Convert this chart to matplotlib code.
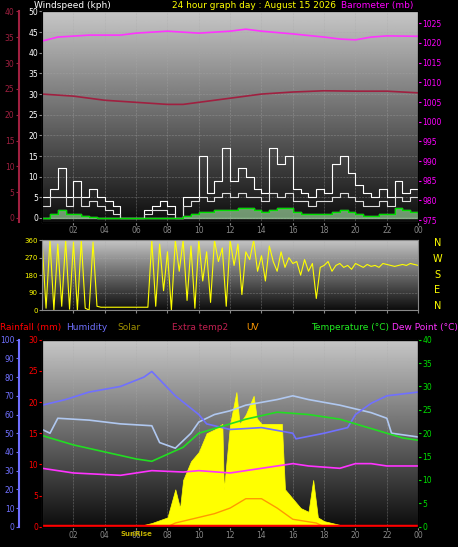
import matplotlib.pyplot as plt
import numpy as np

# ---- data ----
half_hours = np.arange(0, 24.5, 0.5)
wind_gust = [5, 7, 12, 5, 9, 5, 7, 5, 4, 3, 0, 0, 0, 2, 3, 4, 3, 0, 5, 5,
             15, 6, 9, 17, 9, 12, 10, 7, 6, 17, 13, 15, 7, 6, 5, 7, 6, 13,
             15, 11, 8, 6, 5, 7, 5, 9, 6, 7, 5]
wind_avg = [3, 5, 5, 3, 5, 3, 4, 3, 2, 1, 0, 0, 0, 1, 2, 2, 1, 0, 3, 4,
            5, 4, 5, 6, 5, 6, 5, 5, 4, 6, 5, 6, 4, 4, 3, 4, 4, 5,
            6, 5, 4, 3, 3, 4, 3, 5, 4, 5, 4]
wind_mean = [0, 1, 2, 1, 1, 0.5, 0.2, 0, 0, 0, 0, 0, 0, 0, 0, 0, 0, 0, 0.5, 1,
             1.5, 1.5, 2, 2, 2, 2.5, 2.5, 2, 1.5, 2, 2.5, 2.5, 1.5, 1, 1, 1, 1, 1.5,
             2, 1.5, 1, 0.5, 0.5, 1, 1, 2.5, 2, 1.5, 1]
press_hours = [0, 1, 3, 5, 6, 8, 10, 12, 13, 14, 16, 18, 19, 20, 21, 22, 24]
pressure = [1020.5, 1021.5, 1022, 1022, 1022.5, 1023, 1022.5, 1023, 1023.5, 1023,
            1022.3, 1021.5, 1021, 1020.8, 1021.5, 1021.8, 1021.7]
extra_hours = [0, 2, 4, 6, 8, 9, 10, 12, 14, 16, 18, 20, 22, 24]
extra_temp = [30, 29.5, 28.5, 28, 27.5, 27.5, 28, 29, 30, 30.5, 30.8, 30.7, 30.7, 30.3]

dir_hours = np.arange(0, 24.25, 0.25)
wind_dir = [350, 10, 360, 0, 340, 20, 360, 5, 350, 0, 360, 10, 0, 350, 20,
            15, 15, 15, 15, 15, 15, 15, 15, 15, 15, 15, 15, 15,
            360, 20, 340, 100, 300, 0, 360, 200, 360, 50, 330, 10, 360, 150, 300,
            40, 360, 250, 320, 20, 360, 230, 340, 80, 300, 260, 360, 200, 280,
            150, 330, 250, 200, 300, 220, 270, 240,
            250, 180, 260, 200, 240, 60, 220, 230, 250, 200, 230, 240, 220, 230,
            210, 240, 230, 220, 235, 225, 230, 220, 240, 235, 230, 225, 230, 235,
            230, 240, 235, 230]

hum_hours = [0, 1.5, 3, 5, 6.5, 7, 8.5, 10, 10.5, 12, 14, 16, 16.2, 18, 19.5, 20, 21, 22, 24]
humidity = [65, 68, 72, 75, 80, 83, 70, 60, 55, 52, 53, 50, 47, 50, 53, 60, 66, 70, 72]
hum2_hours = [0, 0.5, 1, 3, 5, 7, 7.5, 8.5, 9.5, 10, 11, 12, 13, 15, 16, 17, 19, 21, 22, 22.3, 24]
humidity2 = [52, 50, 58, 57, 55, 54, 45, 42, 50, 56, 60, 62, 65, 68, 70, 68, 65, 61, 58, 50, 48]
temp_hours = [0, 2, 4, 6, 7, 8, 9, 10, 11, 13, 15, 17, 19, 21, 23, 24]
temperature = [19.5, 17.5, 16, 14.5, 14, 15.5, 17, 20, 21, 23, 24.5, 24, 23, 21, 19, 18.5]
dew_hours = [0, 2, 5, 7, 9, 10, 12, 14, 16, 17, 19, 20, 21, 22, 24]
dewpoint = [12.5, 11.5, 11, 12, 11.7, 12, 11.5, 12.5, 13.5, 13, 12.5, 13.5, 13.5, 13, 13]
solar_hours = [6, 7, 8, 8.5, 8.8, 9, 9.5, 10, 10.5, 11, 11.5, 11.6, 12, 12.4, 12.6,
               13, 13.5, 13.7, 14, 15, 15.3, 15.5, 16, 16.5, 17, 17.3, 17.6, 18, 19, 20]
solar = [0, 2, 5, 20, 10, 25, 35, 40, 50, 52, 55, 20, 55, 72, 55, 60, 70, 58, 55, 55,
         55, 20, 15, 10, 8, 25, 5, 3, 1, 0]
uv_hours = [8, 8.5, 10, 11, 12, 13, 14, 15, 16, 17.5, 18]
uv = [0, 2, 5, 7, 10, 15, 15, 10, 4, 2, 0]
tick_hours = list(range(2, 26, 2))
tick_labels = ['02', '04', '06', '08', '10', '12', '14', '16', '18', '20', '22', '00']

plt.rcParams['font.family'] = 'DejaVu Sans'
fig = plt.figure(figsize=(4.58, 5.47), dpi=100, facecolor='black')
grad = np.linspace(0.05, 0.78, 256)[:, None]


def panel(rect, labels=True):
    ax = fig.add_axes(rect)
    ax.set_facecolor('black')
    ax.imshow(grad, cmap='gray', vmin=0, vmax=1, aspect='auto', origin='lower',
              extent=(0, 1, 0, 1), transform=ax.transAxes, zorder=0)
    ax.set_xlim(0, 24)
    ax.set_xticks(tick_hours)
    ax.set_xticklabels(tick_labels if labels else [], color='yellow', fontsize=5.5)
    ax.grid(color='#aaaaaa', lw=0.4, ls=':')
    for s in ax.spines.values():
        s.set_color('#888888')
    ax.tick_params(colors='#888888', length=2, pad=1)
    return ax


def outer_left(parent, color, lo, hi, step):
    ax = parent.twinx()
    ax.spines['left'].set_position(('outward', 17))
    ax.spines['left'].set_color(color)
    ax.spines['left'].set_linewidth(1.5)
    ax.yaxis.set_label_position('left')
    ax.yaxis.set_ticks_position('left')
    ax.set_ylim(lo, hi)
    ax.set_yticks(range(int(lo + 0.99), int(hi) + 1, step))
    ax.tick_params(colors=color, labelsize=5.5, length=2, pad=1)
    return ax


# top panel: wind and pressure
ax1 = panel([0.092, 0.594, 0.821, 0.385])
ax1.set_ylim(-1, 50)
ax1.set_yticks(range(0, 51, 5))
ax1.tick_params(axis='y', labelcolor='white', labelsize=5.5)
ax1.step(half_hours, wind_gust, where='post', color='white', lw=0.8)
ax1.step(half_hours, wind_avg, where='post', color='#dddddd', lw=0.8)
ax1.fill_between(half_hours, wind_mean, step='post', color='#b0f0b0', alpha=0.6)
ax1.step(half_hours, wind_mean, where='post', color='#00dd00', lw=1)
ax1.plot(extra_hours, extra_temp, color='#a02040', lw=1.2)
axp = ax1.twinx()
axp.set_ylim(974.5, 1028)
axp.set_yticks(range(975, 1026, 5))
axp.tick_params(colors='magenta', labelsize=5.5, length=2, pad=1)
axp.plot(press_hours, pressure, color='#ff33ff', lw=1.2)
outer_left(ax1, '#a02040', -0.8, 40, 5)
fig.text(0.075, 0.998, 'Windspeed (kph)', color='white', fontsize=6.5, va='top')
fig.text(0.375, 0.998, '24 hour graph day : August 15 2026', color='yellow', fontsize=6.5, va='top')
fig.text(0.745, 0.998, 'Barometer (mb)', color='magenta', fontsize=6.5, va='top')

# middle panel: wind direction
ax2 = panel([0.092, 0.433, 0.821, 0.128], labels=False)
ax2.set_ylim(0, 360)
ax2.set_yticks([0, 90, 180, 270, 360])
ax2.tick_params(axis='y', labelcolor='yellow', labelsize=5)
ax2.plot(dir_hours, wind_dir, color='yellow', lw=0.8)
for i, c in enumerate('NWSEN'):
    fig.text(0.955, 0.556 - i * 0.029, c, color='yellow', fontsize=7, va='center', ha='center')

# bottom panel
ax3 = panel([0.092, 0.037, 0.821, 0.342])
ax3.set_ylim(0, 100)
ax3.set_yticks([])
ax3.fill_between(solar_hours, solar, color='yellow', lw=0.5, zorder=2)
ax3.plot(uv_hours, uv, color='#ff9900', lw=1, zorder=3)
ax3.plot(hum2_hours, humidity2, color='#b0c8f0', lw=1.2, zorder=3)
ax3.plot(hum_hours, humidity, color='#7070ff', lw=1.2, zorder=3)
ax3.axhline(0.3, color='red', lw=2.5, zorder=4)
outer_left(ax3, '#7070ff', 0, 100, 10)
axr = ax3.twinx()
axr.yaxis.set_ticks_position('left')
axr.set_ylim(0, 30)
axr.set_yticks(range(0, 31, 5))
axr.tick_params(colors='red', labelsize=5.5, length=2, pad=1)
axt = ax3.twinx()
axt.set_ylim(0, 40)
axt.set_yticks(range(0, 41, 5))
axt.tick_params(colors='#00dd00', labelsize=5.5, length=2, pad=1)
axt.plot(temp_hours, temperature, color='#22dd22', lw=1.2)
axt.plot(dew_hours, dewpoint, color='#ff33ff', lw=1.2)
ax3.text(6, -2.5, 'SunRise', color='#c0b000', fontsize=5, ha='center', va='top',
         fontweight='bold')
legend = [(0.0, 'Rainfall (mm)', 'red'), (0.145, 'Humidity', '#7070ff'),
          (0.257, 'Solar', '#a09000'), (0.375, 'Extra temp2', '#c02050'),
          (0.538, 'UV', '#ff9900'), (0.68, 'Temperature (\u00b0C)', '#22ee22'),
          (0.855, 'Dew Point (\u00b0C)', '#ff33ff')]
for x, t, c in legend:
    fig.text(x, 0.402, t, color=c, fontsize=6.5, va='center')

fig.savefig('out.png', dpi=100, facecolor='black')
